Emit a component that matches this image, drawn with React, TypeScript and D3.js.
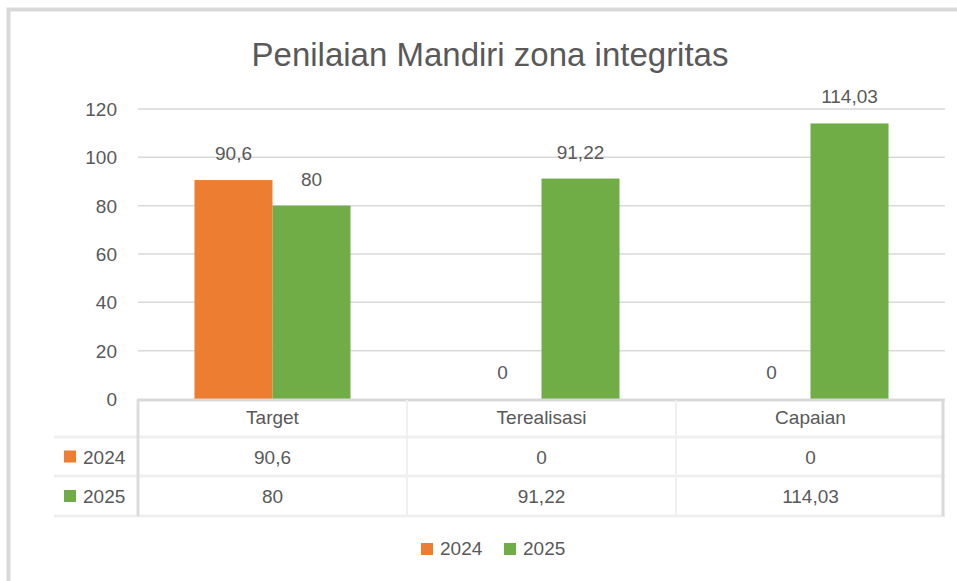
import * as d3 from 'd3'

const categories = ['Target', 'Terealisasi', 'Capaian']
const series = ['2024', '2025']
const values2024 = [90.6, 0, 0]
const values2025 = [80, 91.22, 114.03]
const labels2024 = ['90,6', '0', '0']
const labels2025 = ['80', '91,22', '114,03']
const yTicks = [0, 20, 40, 60, 80, 100, 120]
const colors = ['#ed7d31', '#70ad47']

const W = 957
const H = 581
const FONT = '"Liberation Sans", Arial, sans-serif'
const TXT = '#595959'
const FS = 19

export default function App() {
  const plotLeft = 138
  const plotRight = 945
  const y = d3.scaleLinear().domain([0, 120]).range([399, 109])
  const x0 = d3.scaleBand().domain(categories).range([plotLeft, plotRight])
  const bw = x0.bandwidth()
  const groupW = bw * 0.58
  const x1 = d3.scaleBand().domain(series).range([(bw - groupW) / 2, (bw + groupW) / 2])

  const rows = [
    { name: series[0], vals: values2024, labels: labels2024, color: colors[0] },
    { name: series[1], vals: values2025, labels: labels2025, color: colors[1] },
  ]

  const tableTop = 400
  const rowY = [400, 437, 476, 516]

  return (
    <svg
      width={W}
      height={H}
      style={{ position: 'absolute', left: 0, top: 0, background: '#fff' }}
      fontFamily={FONT}
    >
      <rect x={8.5} y={9.5} width={W + 20} height={H + 20} fill="#fff" stroke="#d9d9d9" strokeWidth={4} />

      <text x={490} y={66} textAnchor="middle" fontSize={33} fill={TXT}>
        Penilaian Mandiri zona integritas
      </text>

      {yTicks.map((t) => (
        <g key={t}>
          {t > 0 && (
            <line x1={plotLeft} x2={plotRight} y1={y(t)} y2={y(t)} stroke="#d9d9d9" strokeWidth={1.5} />
          )}
          <text x={117} y={y(t) + 7} textAnchor="end" fontSize={FS} fill={TXT}>
            {t}
          </text>
        </g>
      ))}

      {rows.map((r) =>
        categories.map((c, i) => {
          const bx = (x0(c) ?? 0) + (x1(r.name) ?? 0)
          const bwid = x1.bandwidth()
          const top = y(r.vals[i])
          return (
            <g key={r.name + c}>
              {r.vals[i] > 0 && <rect x={bx} y={top} width={bwid} height={y(0) - top} fill={r.color} />}
              <text x={bx + bwid / 2} y={top - 20} textAnchor="middle" fontSize={FS} fill={TXT}>
                {r.labels[i]}
              </text>
            </g>
          )
        })
      )}

      {/* data table */}
      <line x1={plotLeft - 1} x2={plotRight} y1={tableTop} y2={tableTop} stroke="#d9d9d9" strokeWidth={3} />
      {rowY.slice(1).map((ry) => (
        <line key={ry} x1={54} x2={plotRight} y1={ry} y2={ry} stroke="#f0f0f0" strokeWidth={3} />
      ))}
      <line x1={plotLeft} x2={plotLeft} y1={tableTop} y2={rowY[3]} stroke="#dcdcdc" strokeWidth={3} />
      {categories.slice(1).map((c) => (
        <line
          key={c}
          x1={x0(c) ?? 0}
          x2={x0(c) ?? 0}
          y1={tableTop}
          y2={rowY[3]}
          stroke="#f0f0f0"
          strokeWidth={2}
        />
      ))}
      <line x1={plotRight - 2} x2={plotRight - 2} y1={tableTop} y2={rowY[3]} stroke="#d9d9d9" strokeWidth={3} />

      {categories.map((c) => (
        <text key={c} x={(x0(c) ?? 0) + bw / 2} y={424} textAnchor="middle" fontSize={FS} fill={TXT}>
          {c}
        </text>
      ))}
      {rows.map((r, ri) => {
        const cy = (rowY[ri + 1] + rowY[ri + 2]) / 2
        return (
          <g key={r.name}>
            <rect x={64} y={cy - 6} width={12} height={12} fill={r.color} />
            <text x={83} y={cy + 7} fontSize={FS} fill={TXT}>
              {r.name}
            </text>
            {categories.map((c, i) => (
              <text key={c} x={(x0(c) ?? 0) + bw / 2} y={cy + 7} textAnchor="middle" fontSize={FS} fill={TXT}>
                {r.labels[i]}
              </text>
            ))}
          </g>
        )
      })}

      {/* legend */}
      {rows.map((r, i) => {
        const lx = 421 + i * 83
        return (
          <g key={r.name}>
            <rect x={lx} y={543} width={12} height={12} fill={r.color} />
            <text x={lx + 19} y={555} fontSize={FS} fill={TXT}>
              {r.name}
            </text>
          </g>
        )
      })}
    </svg>
  )
}
